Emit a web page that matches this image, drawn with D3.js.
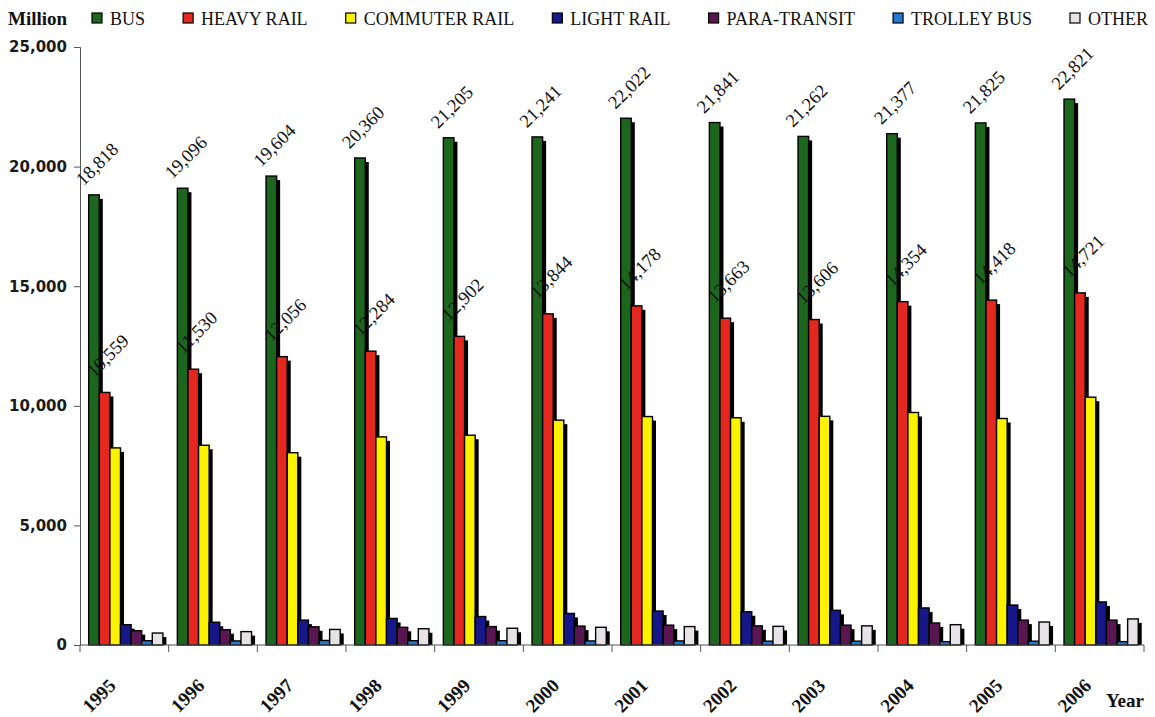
<!DOCTYPE html>
<html>
<head>
<meta charset="utf-8">
<script src="https://cdn.jsdelivr.net/npm/d3@7/dist/d3.min.js"></script>
<style>
  html, body { margin: 0; padding: 0; background: #fff; }
  svg { display: block; }
</style>
</head>
<body>
<svg id="chart" width="1155" height="717"></svg>
<script>
// Passenger-miles by mode, millions
const years = ['1995','1996','1997','1998','1999','2000','2001','2002','2003','2004','2005','2006'];
const bus          = [18818, 19096, 19604, 20360, 21205, 21241, 22022, 21841, 21262, 21377, 21825, 22821];
const heavyRail    = [10559, 11530, 12056, 12284, 12902, 13844, 14178, 13663, 13606, 14354, 14418, 14721];
const commuterRail = [8240, 8350, 8040, 8700, 8770, 9400, 9550, 9500, 9560, 9720, 9470, 10360];
const lightRail    = [850, 950, 1040, 1110, 1190, 1320, 1420, 1390, 1450, 1550, 1670, 1800];
const paraTransit  = [600, 640, 760, 740, 770, 790, 830, 800, 830, 920, 1040, 1040];
const trolleyBus   = [180, 170, 190, 180, 180, 170, 170, 160, 160, 140, 160, 140];
const other        = [500, 560, 650, 680, 700, 740, 770, 780, 800, 850, 960, 1090];

const seriesNames = ['BUS', 'HEAVY RAIL', 'COMMUTER RAIL', 'LIGHT RAIL', 'PARA-TRANSIT', 'TROLLEY BUS', 'OTHER'];
const seriesValues = [bus, heavyRail, commuterRail, lightRail, paraTransit, trolleyBus, other];
const seriesColors = ['#1c661e', '#e4281f', '#fbf200', '#16188a', '#5a1650', '#2776cf', '#e6e2e6'];
const yTicks = [0, 5000, 10000, 15000, 20000, 25000];

const svg = d3.select('#chart');
const plotLeft = 80, plotRight = 1144, plotTop = 47, plotBottom = 645;

const x0 = d3.scaleBand().domain(years).range([plotLeft, plotRight]);
const x1 = d3.scaleBand().domain(seriesNames)
  .range([x0.bandwidth() * 0.098, x0.bandwidth() * 0.935]);
const y = d3.scaleLinear().domain([0, 25000]).range([plotBottom, plotTop]);

// y axis
const yAxis = svg.append('g')
  .attr('transform', `translate(${plotLeft},0)`)
  .call(d3.axisLeft(y).tickValues(yTicks).tickSize(6).tickPadding(7)
        .tickFormat(d3.format(',')));
yAxis.selectAll('path, line').attr('stroke', '#555').attr('stroke-width', 1);
yAxis.selectAll('text')
  .attr('font-family', 'DejaVu Sans, Verdana, sans-serif')
  .attr('font-weight', 'bold')
  .attr('font-size', 15)
  .attr('fill', '#1a1a1a');

// bars: each drawn with a dark offset shadow behind it
const groups = svg.append('g').selectAll('g')
  .data(years)
  .join('g')
  .attr('transform', d => `translate(${x0(d)},0)`);

seriesNames.forEach((name, si) => {
  const vals = seriesValues[si];
  groups.append('rect')
    .attr('x', x1(name) + 3.5)
    .attr('y', (d, i) => y(vals[i]) + 4)
    .attr('width', x1.bandwidth())
    .attr('height', (d, i) => plotBottom - y(vals[i]) - 4)
    .attr('fill', '#000');
  groups.append('rect')
    .attr('x', x1(name))
    .attr('y', (d, i) => y(vals[i]))
    .attr('width', x1.bandwidth())
    .attr('height', (d, i) => plotBottom - y(vals[i]))
    .attr('fill', seriesColors[si])
    .attr('stroke', '#000')
    .attr('stroke-width', 1.4);
});

// x axis baseline with category boundary ticks
const xAxisG = svg.append('g');
xAxisG.append('line')
  .attr('x1', plotLeft).attr('x2', plotRight)
  .attr('y1', plotBottom).attr('y2', plotBottom)
  .attr('stroke', '#555').attr('stroke-width', 1);
const boundaries = years.map(d => x0(d)).concat([x0(years[years.length - 1]) + x0.bandwidth()]);
xAxisG.selectAll('line.tick')
  .data(boundaries)
  .join('line')
  .attr('class', 'tick')
  .attr('x1', d => d).attr('x2', d => d)
  .attr('y1', plotBottom).attr('y2', plotBottom + 7)
  .attr('stroke', '#555').attr('stroke-width', 1);

// rotated year labels
svg.append('g').selectAll('text')
  .data(years)
  .join('text')
  .attr('transform', d => `translate(${x0(d) + x0.bandwidth() / 2 - 12},${plotBottom + 37}) rotate(-45)`)
  .attr('text-anchor', 'end')
  .attr('dy', '0.35em')
  .attr('font-family', 'Liberation Serif, Times New Roman, serif')
  .attr('font-weight', 'bold')
  .attr('font-size', 19)
  .attr('fill', '#111')
  .text(d => d);

svg.append('text')
  .attr('x', 1106).attr('y', 707)
  .attr('font-family', 'Liberation Serif, Times New Roman, serif')
  .attr('font-weight', 'bold')
  .attr('font-size', 19)
  .attr('fill', '#111')
  .text('Year');

// value labels for bus and heavy rail
const fmt = d3.format(',');
function valueLabels(name, vals, lift) {
  svg.append('g').selectAll('text')
    .data(years)
    .join('text')
    .attr('transform', (d, i) =>
      `translate(${x0(d) + x1(name) + x1.bandwidth() / 2 + 3},${y(vals[i]) - lift}) rotate(-45)`)
    .attr('text-anchor', 'middle')
    .attr('dy', '0.35em')
    .attr('font-family', 'Liberation Serif, Times New Roman, serif')
    .attr('font-size', 18.5)
    .attr('fill', '#111')
    .text((d, i) => fmt(vals[i]));
}
valueLabels('BUS', bus, 31);
valueLabels('HEAVY RAIL', heavyRail, 37);

// unit label
svg.append('text')
  .attr('x', 8).attr('y', 25)
  .attr('font-family', 'Liberation Serif, Times New Roman, serif')
  .attr('font-weight', 'bold')
  .attr('font-size', 19)
  .attr('fill', '#111')
  .text('Million');

// legend, spread across the top
const legend = svg.append('g');
const items = legend.selectAll('g')
  .data(seriesNames)
  .join('g');
items.append('rect')
  .attr('width', 10).attr('height', 10)
  .attr('y', 13)
  .attr('fill', (d, i) => seriesColors[i])
  .attr('stroke', '#000').attr('stroke-width', 1.2);
items.append('text')
  .attr('x', 18).attr('y', 25)
  .attr('font-family', 'Liberation Serif, Times New Roman, serif')
  .attr('font-size', 18)
  .attr('fill', '#111')
  .text(d => d);

const legendStart = 92, legendEnd = 1148;
const widths = [];
items.each(function () { widths.push(18 + this.querySelector('text').getComputedTextLength()); });
const gap = (legendEnd - legendStart - d3.sum(widths)) / (widths.length - 1);
let cursor = legendStart;
items.attr('transform', (d, i) => {
  const t = `translate(${cursor},0)`;
  cursor += widths[i] + gap;
  return t;
});
</script>
</body>
</html>
